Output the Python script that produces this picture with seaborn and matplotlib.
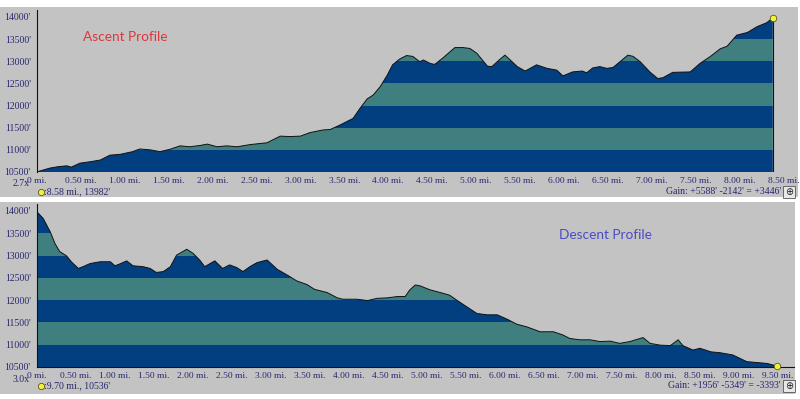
import numpy as np
import matplotlib
matplotlib.use("Agg")
import matplotlib.pyplot as plt
from matplotlib.patches import Rectangle
from matplotlib.lines import Line2D
import seaborn as sns

# ---------------- data ----------------
ascent_mi = [0.01, 0.15, 0.24, 0.34, 0.39, 0.49, 0.60, 0.72, 0.83, 0.95, 1.09, 1.17, 1.29,
             1.40, 1.51, 1.63, 1.74, 1.86, 1.94, 2.05, 2.16, 2.28, 2.43, 2.62, 2.77, 2.88,
             3.00, 3.11, 3.26, 3.34, 3.45, 3.60, 3.68, 3.76, 3.83, 3.91, 3.99, 4.05, 4.13,
             4.21, 4.28, 4.36, 4.40, 4.48, 4.53, 4.62, 4.76, 4.85, 4.93, 5.01, 5.13, 5.18,
             5.27, 5.33, 5.39, 5.47, 5.56, 5.69, 5.81, 5.92, 5.99, 6.10, 6.21, 6.26, 6.33,
             6.41, 6.49, 6.56, 6.64, 6.73, 6.79, 6.87, 6.98, 7.07, 7.13, 7.24, 7.44, 7.55,
             7.67, 7.78, 7.86, 7.97, 8.09, 8.20, 8.31, 8.38]
ascent_ft = [10510, 10590, 10620, 10640, 10610, 10700, 10730, 10770, 10880, 10900, 10960, 11020, 11000,
             10960, 11010, 11090, 11070, 11100, 11130, 11070, 11090, 11070, 11120, 11160, 11310, 11300,
             11310, 11390, 11450, 11460, 11560, 11710, 11940, 12150, 12240, 12430, 12690, 12920, 13050,
             13130, 13110, 12990, 13030, 12950, 12930, 13070, 13310, 13310, 13290, 13180, 12890, 12880,
             13040, 13140, 13030, 12880, 12780, 12920, 12840, 12800, 12670, 12760, 12780, 12740, 12850,
             12880, 12840, 12860, 12990, 13140, 13110, 12990, 12760, 12610, 12630, 12750, 12760, 12950,
             13110, 13280, 13340, 13590, 13650, 13780, 13870, 13980]

descent_mi = [0.00, 0.08, 0.17, 0.23, 0.29, 0.38, 0.44, 0.53, 0.59, 0.68, 0.81, 0.94, 1.00,
              1.06, 1.15, 1.23, 1.36, 1.45, 1.53, 1.62, 1.71, 1.79, 1.92, 2.00, 2.09, 2.15,
              2.28, 2.38, 2.47, 2.56, 2.64, 2.73, 2.82, 2.95, 3.08, 3.21, 3.33, 3.46, 3.56,
              3.72, 3.85, 3.92, 4.10, 4.24, 4.36, 4.49, 4.62, 4.72, 4.78, 4.85, 4.91, 5.04,
              5.17, 5.29, 5.38, 5.51, 5.64, 5.77, 5.90, 6.03, 6.15, 6.28, 6.45, 6.62, 6.74,
              6.83, 6.96, 7.09, 7.22, 7.35, 7.47, 7.60, 7.77, 7.86, 7.99, 8.12, 8.22, 8.28,
              8.41, 8.50, 8.64, 8.76, 8.92, 9.10, 9.23, 9.36, 9.49]
descent_ft = [13980, 13830, 13530, 13270, 13090, 12990, 12860, 12710, 12750, 12820, 12860, 12860, 12770,
              12810, 12880, 12770, 12750, 12710, 12620, 12640, 12750, 13010, 13140, 13050, 12890, 12750,
              12880, 12710, 12790, 12730, 12640, 12750, 12840, 12900, 12690, 12560, 12430, 12350, 12240,
              12170, 12050, 12020, 12020, 11990, 12040, 12050, 12080, 12080, 12230, 12340, 12320, 12230,
              12170, 12110, 12000, 11850, 11700, 11670, 11670, 11570, 11460, 11400, 11290, 11290, 11220,
              11140, 11110, 11110, 11070, 11080, 11030, 11070, 11160, 11030, 10990, 10980, 11110, 10980,
              10880, 10920, 10840, 10820, 10770, 10620, 10600, 10580, 10520]

elev_ticks = [10500, 11000, 11500, 12000, 12500, 13000, 13500, 14000]
ascent_dist_ticks = [0, 0.5, 1, 1.5, 2, 2.5, 3, 3.5, 4, 4.5, 5, 5.5, 6, 6.5, 7, 7.5, 8, 8.5]
descent_dist_ticks = [0, 0.5, 1, 1.5, 2, 2.5, 3, 3.5, 4, 4.5, 5, 5.5, 6, 6.5, 7, 7.5, 8, 8.5, 9, 9.5]

ascent_title = "Ascent Profile"
descent_title = "Descent Profile"
ascent_zoom = "2.7x"
descent_zoom = "3.0x"
ascent_readout = ":8.58 mi., 13982'"
descent_readout = ":9.70 mi., 10536'"
ascent_gain = "Gain: +5588' -2142' = +3446'"
descent_gain = "Gain: +1956' -5349' = -3393'"

# ---------------- style ----------------
sns.set_theme(style="white")
W, H = 800, 399
DARK = "#023f80"
TEAL = "#3f7f80"
BG = "#c3c3c3"
NAVY = "#27276f"
SERIF = ["Liberation Serif", "DejaVu Serif"]

fig = plt.figure(figsize=(8.0, 3.99), dpi=100)
fig.patch.set_facecolor("white")


def fx(px):
    return px / W


def fy(py):
    return 1 - py / H


def panel(x0, y0, x1, y1):
    fig.patches.append(Rectangle((fx(x0), fy(y1)), fx(x1 - x0), (y1 - y0) / H,
                                 transform=fig.transFigure, facecolor=BG,
                                 edgecolor="none", zorder=-10))


panel(0, 7, 798, 197)
panel(0, 202, 795, 394)


def draw_profile(rect, xmax, ymax, dist, elev, ticks, bottom_spine):
    ax = fig.add_axes(rect)
    ax.set_zorder(1)
    ax.set_facecolor(BG)
    x = np.asarray(dist)
    y = np.asarray(elev)
    base = elev_ticks[0]
    poly = ax.fill_between(x, base, y, facecolor="none", edgecolor="none")
    clip = poly.get_paths()[0]
    for i, lo in enumerate(elev_ticks[:-1]):
        hi = elev_ticks[i + 1]
        band = ax.axhspan(lo, hi, color=DARK if i % 2 == 0 else TEAL, lw=0, zorder=1)
        band.set_clip_path(clip, ax.transData)
    sns.lineplot(x=x, y=y, ax=ax, color="#111111", lw=0.7, zorder=3, sort=False)
    ax.vlines(x[-1], base, y[-1], color="#111111", lw=0.8, zorder=3)
    ax.scatter([x[-1]], [y[-1]], s=22, facecolor="#f2f046", edgecolor="#5a5a10",
               linewidth=0.6, zorder=5, clip_on=False)
    ax.set_xlim(0, xmax)
    ax.set_ylim(base, ymax)
    ax.set_yticks(elev_ticks)
    ax.set_yticklabels([f"{v}'" for v in elev_ticks], family=SERIF, fontsize=7, color=NAVY)
    ax.set_xticks(ticks)
    ax.set_xticklabels(["0 mi." if t == 0 else f"{t:.2f} mi." for t in ticks],
                       family=SERIF, fontsize=6.8, color=NAVY)
    ax.tick_params(axis="both", direction="out", length=3, width=0.6, color="#222222", pad=1.5)
    ax.tick_params(axis="x", length=2)
    for s in ["top", "right"]:
        ax.spines[s].set_visible(False)
    ax.spines["left"].set_color("#111111")
    ax.spines["left"].set_linewidth(0.8)
    ax.spines["bottom"].set_visible(bottom_spine)
    ax.spines["bottom"].set_color("#111111")
    ax.spines["bottom"].set_linewidth(0.8)
    ax.set_xlabel("")
    ax.set_ylabel("")
    return ax


ax1 = draw_profile([fx(37), fy(172), fx(798) - fx(37), 162 / H], 761 / 87.8, 14158,
                   ascent_mi, ascent_ft, ascent_dist_ticks, False)
ax2 = draw_profile([fx(37), fy(367), fx(794) - fx(37), 163 / H], 757 / 78.0, 14155,
                   descent_mi, descent_ft, descent_dist_ticks, True)

# titles
fig.text(fx(83), fy(37), ascent_title, color="#e0353c", fontsize=9.8, family="Lato",
         ha="left", va="center", zorder=5)
fig.text(fx(559), fy(235), descent_title, color="#4b4bc6", fontsize=9.8, family="Lato",
         ha="left", va="center", zorder=5)

# footer texts
for zy, ry, zt, rt, gt in [(184, 192, ascent_zoom, ascent_readout, ascent_gain),
                           (379, 386, descent_zoom, descent_readout, descent_gain)]:
    fig.text(fx(30), fy(zy), zt, family=SERIF, fontsize=7, color=NAVY, ha="right", va="center")
    fig.add_artist(Line2D([fx(41)], [fy(ry)], marker="o", markersize=4.5,
                          markerfacecolor="#f2f046", markeredgecolor="#5a5a10",
                          markeredgewidth=0.6, transform=fig.transFigure))
    fig.text(fx(44), fy(ry), rt, family=SERIF, fontsize=7, color=NAVY, ha="left", va="center")
    fig.text(fx(781), fy(ry), gt, family=SERIF, fontsize=7, color=NAVY, ha="right", va="center")
    fig.patches.append(Rectangle((fx(783), fy(ry + 6)), fx(12), 12 / H, transform=fig.transFigure,
                                 facecolor="#e8e8e8", edgecolor="#555555", lw=0.6, zorder=2))
    fig.text(fx(789), fy(ry), "\u2295", family="DejaVu Sans", fontsize=7, color="#222222",
             ha="center", va="center", zorder=3)

fig.savefig("out.png", dpi=100, facecolor="white")
